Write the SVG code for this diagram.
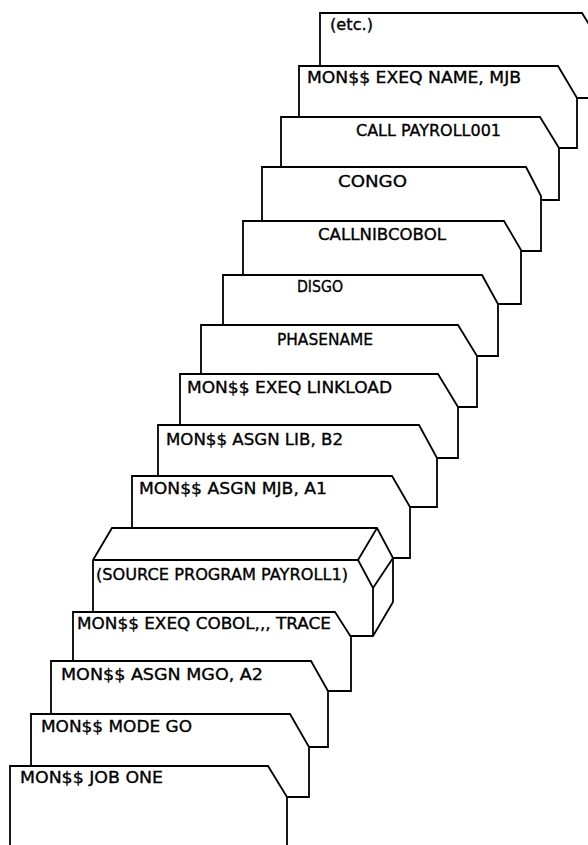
<svg xmlns="http://www.w3.org/2000/svg" width="588" height="845" viewBox="0 0 588 845">
<style>
.card{fill:#fff;stroke:#000;stroke-width:1.8;stroke-linejoin:miter}
.ln{fill:none;stroke:#000;stroke-width:1.8;stroke-linejoin:miter}
.lbl{font-family:"DejaVu Sans","Liberation Sans",sans-serif;font-size:16px;fill:#000;stroke:#000;stroke-width:0.35}
</style>
<rect width="588" height="845" fill="#fff"/>
<g id="card-etc">
<polygon class="card" points="320,13 582,13 601,44 601,98 320,98"/>
<text class="lbl" x="330" y="30" textLength="43" lengthAdjust="spacingAndGlyphs">(etc.)</text>
</g>
<g id="card-exeq-name">
<polygon class="card" points="299,66 558,66 577,98 577,148 299,148"/>
<text class="lbl" x="307" y="83" textLength="214" lengthAdjust="spacingAndGlyphs">MON$$ EXEQ NAME, MJB</text>
</g>
<g id="card-call-payroll">
<polygon class="card" points="281,117 540,117 559,148 559,200 281,200"/>
<text class="lbl" x="356" y="136" textLength="145" lengthAdjust="spacingAndGlyphs">CALL PAYROLL001</text>
</g>
<g id="card-congo">
<polygon class="card" points="262,167 526,167 541,196 541,251 262,251"/>
<text class="lbl" x="338" y="187" textLength="69" lengthAdjust="spacingAndGlyphs">CONGO</text>
</g>
<g id="card-callnibcobol">
<polygon class="card" points="243,221 504,221 521,250 521,304 243,304"/>
<text class="lbl" x="318" y="240" textLength="128" lengthAdjust="spacingAndGlyphs">CALLNIBCOBOL</text>
</g>
<g id="card-disgo">
<polygon class="card" points="223,275 482,275 498,304 498,356 223,356"/>
<text class="lbl" x="297" y="292" textLength="46" lengthAdjust="spacingAndGlyphs">DISGO</text>
</g>
<g id="card-phasename">
<polygon class="card" points="201,325 458,325 477,356 477,407 201,407"/>
<text class="lbl" x="277" y="345" textLength="96" lengthAdjust="spacingAndGlyphs">PHASENAME</text>
</g>
<g id="card-linkload">
<polygon class="card" points="180,374 438,374 458,407 458,458 180,458"/>
<text class="lbl" x="187" y="393" textLength="205" lengthAdjust="spacingAndGlyphs">MON$$ EXEQ LINKLOAD</text>
</g>
<g id="card-asgn-lib">
<polygon class="card" points="158,425 419,425 437,458 437,507 158,507"/>
<text class="lbl" x="166" y="445" textLength="177" lengthAdjust="spacingAndGlyphs">MON$$ ASGN LIB, B2</text>
</g>
<g id="card-asgn-mjb">
<polygon class="card" points="132,476 392,476 410,507 410,558 132,558"/>
<text class="lbl" x="139" y="494" textLength="188" lengthAdjust="spacingAndGlyphs">MON$$ ASGN MJB, A1</text>
</g>
<g id="source-deck">
<polygon class="card" points="93,560 112,528 377,528 393,558 393,602 373,636 93,636"/>
<polyline class="ln" points="93,560 358,560"/>
<polyline class="ln" points="377,528 358,560 373,588 393,558"/>
<line class="ln" x1="373" y1="588" x2="373" y2="636"/>
<text class="lbl" x="96" y="580" textLength="252" lengthAdjust="spacingAndGlyphs">(SOURCE PROGRAM PAYROLL1)</text>
</g>
<g id="card-exeq-cobol">
<polygon class="card" points="73,612 335,612 351,637 351,691 73,691"/>
<text class="lbl" x="77" y="629" textLength="254" lengthAdjust="spacingAndGlyphs">MON$$ EXEQ COBOL,,, TRACE</text>
</g>
<g id="card-asgn-mgo">
<polygon class="card" points="51,661 311,661 328,691 328,747 51,747"/>
<text class="lbl" x="61" y="680" textLength="202" lengthAdjust="spacingAndGlyphs">MON$$ ASGN MGO, A2</text>
</g>
<g id="card-mode-go">
<polygon class="card" points="31,714 290,714 309,747 309,797 31,797"/>
<text class="lbl" x="41" y="732" textLength="151" lengthAdjust="spacingAndGlyphs">MON$$ MODE GO</text>
</g>
<g id="card-job-one">
<polygon class="card" points="10,766 268,766 287,797 287,850 10,850"/>
<text class="lbl" x="20" y="783" textLength="143" lengthAdjust="spacingAndGlyphs">MON$$ JOB ONE</text>
</g>
</svg>
